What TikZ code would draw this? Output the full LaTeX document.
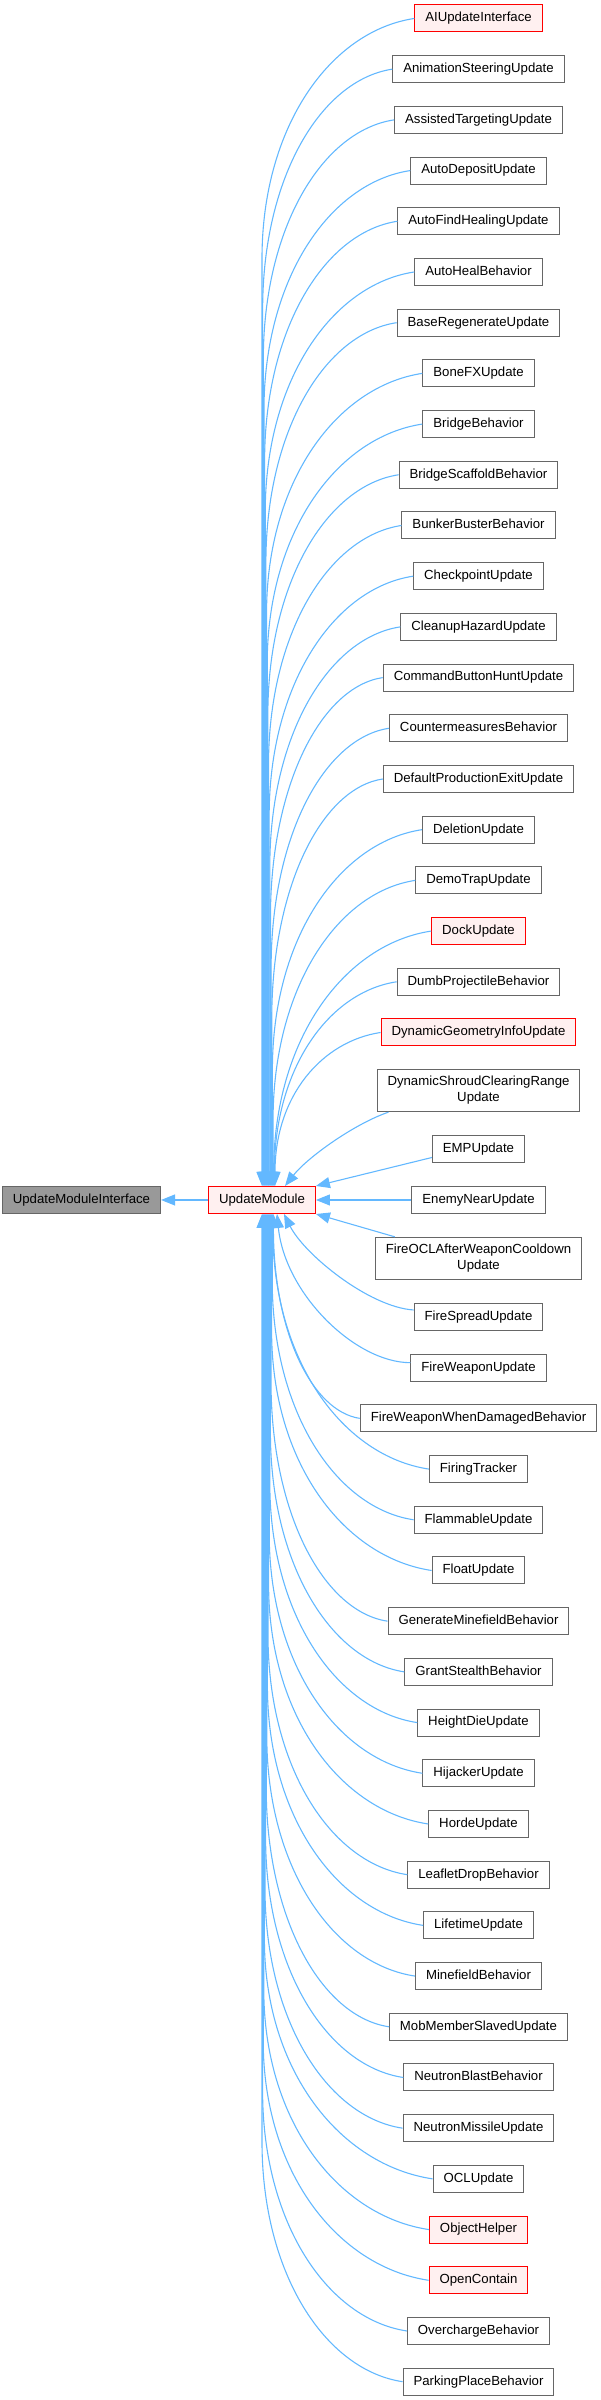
\documentclass[tikz,border=0pt]{standalone}
\usepackage{fontspec}
\setmainfont{Liberation Sans}
\usetikzlibrary{positioning, calc, arrows.meta}
\definecolor{dxEdge}{HTML}{63B8FF}
\definecolor{dxLine}{HTML}{666666}
\definecolor{dxRoot}{HTML}{999999}
\definecolor{dxRed}{HTML}{FF0000}
\definecolor{dxRedFill}{HTML}{FFF0F0}

\begin{document}
\begin{tikzpicture}[x=1pt, y=1pt,
	box/.style={draw=dxLine, fill=white, line width=1pt, inner xsep=10.5pt, inner ysep=7pt,
		align=center, font=\fontsize{13.2}{16}\selectfont},
	cls/.style={box, text height=9.6pt, text depth=2.8pt, minimum height=27pt},
	clsRed/.style={cls, draw=dxRed, fill=dxRedFill},
	clsRoot/.style={cls, fill=dxRoot},
	inh/.style={draw=dxEdge, line width=1.1pt, -{Triangle[length=14pt, width=11pt]}}]
	\useasboundingbox (0,0) rectangle (600,2400);

	\node[clsRed] (um) at (262,1200) {UpdateModule};
	\node[clsRoot, left=47pt of um] (umIface) {UpdateModuleInterface};

	\node[clsRed] (aiUpdate) at (478.5,2381.5) {AIUpdateInterface};
	\node[cls] (animSteering) at (478.5,2330.8) {AnimationSteeringUpdate};
	\node[cls] (assistTarget) at (478.5,2280.1) {AssistedTargetingUpdate};
	\node[cls] (autoDeposit) at (478.5,2229.4) {AutoDepositUpdate};
	\node[cls] (autoFindHeal) at (478.5,2178.7) {AutoFindHealingUpdate};
	\node[cls] (autoHeal) at (478.5,2128.0) {AutoHealBehavior};
	\node[cls] (baseRegen) at (478.5,2077.3) {BaseRegenerateUpdate};
	\node[cls] (boneFx) at (478.5,2026.6) {BoneFXUpdate};
	\node[cls] (bridge) at (478.5,1975.9) {BridgeBehavior};
	\node[cls] (bridgeScaffold) at (478.5,1925.2) {BridgeScaffoldBehavior};
	\node[cls] (bunkerBuster) at (478.5,1874.5) {BunkerBusterBehavior};
	\node[cls] (checkpoint) at (478.5,1823.8) {CheckpointUpdate};
	\node[cls] (cleanupHazard) at (478.5,1773.1) {CleanupHazardUpdate};
	\node[cls] (cmdButtonHunt) at (478.5,1722.4) {CommandButtonHuntUpdate};
	\node[cls] (countermeasures) at (478.5,1671.7) {CountermeasuresBehavior};
	\node[cls] (defaultProdExit) at (478.5,1621.0) {DefaultProductionExitUpdate};
	\node[cls] (deletion) at (478.5,1570.3) {DeletionUpdate};
	\node[cls] (demoTrap) at (478.5,1519.6) {DemoTrapUpdate};
	\node[clsRed] (dock) at (478.5,1468.9) {DockUpdate};
	\node[cls] (dumbProjectile) at (478.5,1418.2) {DumbProjectileBehavior};
	\node[clsRed] (dynGeometry) at (478.5,1367.5) {DynamicGeometryInfoUpdate};
	\node[box] (dynShroud) at (478.5,1309.5) {DynamicShroudClearingRange\\Update};
	\node[cls] (emp) at (478.5,1250.5) {EMPUpdate};
	\node[cls] (enemyNear) at (478.5,1200) {EnemyNearUpdate};
	\node[box] (fireOcl) at (478.5,1141.5) {FireOCLAfterWeaponCooldown\\Update};
	\node[cls] (fireSpread) at (478.5,1083.0) {FireSpreadUpdate};
	\node[cls] (fireWeapon) at (478.5,1032.3) {FireWeaponUpdate};
	\node[cls] (fireWpnDamaged) at (478.5,981.6) {FireWeaponWhenDamagedBehavior};
	\node[cls] (firingTracker) at (478.5,930.9) {FiringTracker};
	\node[cls] (flammable) at (478.5,880.2) {FlammableUpdate};
	\node[cls] (floatUpd) at (478.5,829.5) {FloatUpdate};
	\node[cls] (genMinefield) at (478.5,778.8) {GenerateMinefieldBehavior};
	\node[cls] (grantStealth) at (478.5,728.1) {GrantStealthBehavior};
	\node[cls] (heightDie) at (478.5,677.4) {HeightDieUpdate};
	\node[cls] (hijacker) at (478.5,626.7) {HijackerUpdate};
	\node[cls] (horde) at (478.5,576.0) {HordeUpdate};
	\node[cls] (leafletDrop) at (478.5,525.3) {LeafletDropBehavior};
	\node[cls] (lifetime) at (478.5,474.6) {LifetimeUpdate};
	\node[cls] (minefield) at (478.5,423.9) {MinefieldBehavior};
	\node[cls] (mobMember) at (478.5,373.2) {MobMemberSlavedUpdate};
	\node[cls] (neutronBlast) at (478.5,322.5) {NeutronBlastBehavior};
	\node[cls] (neutronMissile) at (478.5,271.8) {NeutronMissileUpdate};
	\node[cls] (oclUpdate) at (478.5,221.1) {OCLUpdate};
	\node[clsRed] (objectHelper) at (478.5,170.4) {ObjectHelper};
	\node[clsRed] (openContain) at (478.5,119.7) {OpenContain};
	\node[cls] (overcharge) at (478.5,69.0) {OverchargeBehavior};
	\node[cls] (parkingPlace) at (478.5,18.3) {ParkingPlaceBehavior};

	\draw[inh] (um.west) -- (umIface.east);

	\foreach \c [count=\i] in {aiUpdate, animSteering, assistTarget, autoDeposit, autoFindHeal,
		autoHeal, baseRegen, boneFx, bridge, bridgeScaffold, bunkerBuster, checkpoint,
		cleanupHazard, cmdButtonHunt, countermeasures, defaultProdExit, deletion, demoTrap,
		dock, dumbProjectile, dynGeometry} {
		\pgfmathsetmacro\dx{0.65*(\i-1)}
		\draw[inh] let \p1=(\c.west), \p2=([xshift=\dx pt]um.north),
			\n1={0.55*(\x1-\x2)}, \n2={min(\y1-\y2-14pt,240pt)} in
			(\p1) .. controls +(-\n1,-0.15*\n1) and (\x2,\y1-0.45*\n2) .. (\x2,\y1-\n2) -- (\p2);
	}

	\draw[inh] ([xshift=12pt]dynShroud.south west) .. controls +(-35,-12) and +(22,28) .. ([xshift=23pt]um.north);
	\draw[inh] ([yshift=-8pt]emp.west) -- (um.north east);
	\draw[inh] (enemyNear.west) -- (um.east);
	\draw[inh] ([xshift=20pt]fireOcl.north west) -- (um.south east);
	\draw[inh] ([yshift=7pt]fireSpread.west) .. controls +(-45,3) and +(20,-40) .. ([xshift=22pt]um.south);
	\draw[inh] ([yshift=5pt]fireWeapon.west) .. controls +(-55,0) and +(8,-80) .. ([xshift=15pt]um.south);

	\foreach \c [count=\i] in {fireWpnDamaged, firingTracker, flammable, floatUpd, genMinefield,
		grantStealth, heightDie, hijacker, horde, leafletDrop, lifetime, minefield, mobMember,
		neutronBlast, neutronMissile, oclUpdate, objectHelper, openContain, overcharge,
		parkingPlace} {
		\pgfmathsetmacro\dx{0.6*(20-\i)}
		\draw[inh] let \p1=(\c.west), \p2=([xshift=\dx pt]um.south),
			\n1={0.55*(\x1-\x2)}, \n2={min(\y2-\y1-14pt,240pt)} in
			(\p1) .. controls +(-\n1,0.15*\n1) and (\x2,\y1+0.45*\n2) .. (\x2,\y1+\n2) -- (\p2);
	}
\end{tikzpicture}
\end{document}
